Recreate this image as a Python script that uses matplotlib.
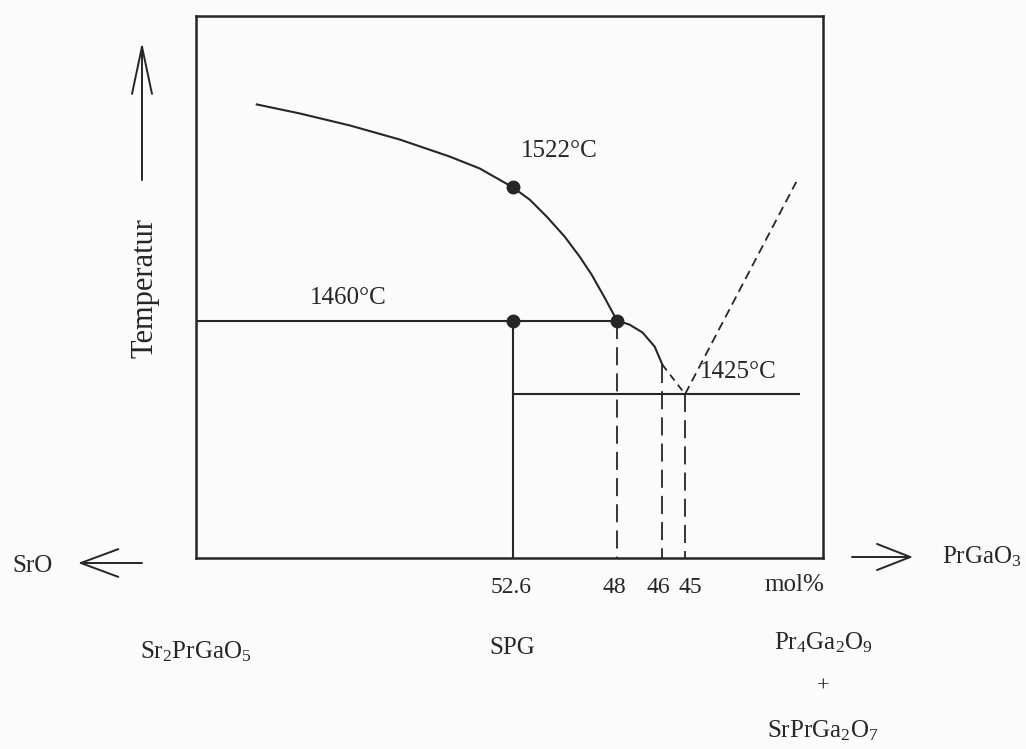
import matplotlib
matplotlib.use("Agg")
import matplotlib.pyplot as plt
from matplotlib.transforms import ScaledTranslation

plt.rcParams["font.family"] = ["Liberation Serif", "DejaVu Serif"]
plt.rcParams["mathtext.fontset"] = "custom"
plt.rcParams["mathtext.rm"] = "Liberation Serif"
plt.rcParams["mathtext.it"] = "Liberation Serif:italic"

INK = "#262626"
W, H = 1026, 749

# composition axis (mol%, decreasing to the right) and temperature (°C)
X_LIM = (66.56, 38.92)
T_LIM = (1347, 1605)

# liquidus of SPG (solid part)
liq_x = [63.88, 61.98, 59.78, 57.58, 55.38, 54.05, 52.6,
         51.85, 51.10, 50.31, 49.65, 49.12, 48.55, 48.0,
         47.45, 46.87, 46.34, 46.0]
liq_t = [1562.9, 1558.6, 1552.9, 1546.2, 1538.1, 1532.4, 1523.5,
         1517.6, 1509.5, 1500.0, 1490.5, 1481.9, 1471.0, 1460.0,
         1458.1, 1454.3, 1447.6, 1439.0]
# dashed end of the liquidus down to the eutectic
liq_end_x = [46.0, 45.0]
liq_end_t = [1439, 1425]
# dashed liquidus on the PrGaO3 side
right_x = [45.0, 40.1]
right_t = [1425, 1526]

# invariant temperatures
T_PERI = 1460     # peritectic
T_EUT = 1425      # eutectic
T_MELT = 1523.5   # SPG at its own composition (labelled 1522 °C)
X_SPG = 52.6
X_PERI = 48
X_46 = 46
X_EUT = 45
X_EUT_LINE_END = 40.0

tick_pos = [52.6, 48, 46, 45]
tick_lab = ["52.6", "48", "46", "45"]

dots_x = [X_SPG, X_SPG, X_PERI]
dots_t = [T_MELT, T_PERI, T_PERI]

labels = [("1522°C", 50.53, 1540.5), ("1460°C", 59.87, 1471), ("1425°C", 42.67, 1435.7)]


def fx(px):
    return px / W


def fy(py):
    return 1 - py / H


fig = plt.figure(figsize=(10.26, 7.49), dpi=100)
fig.patch.set_facecolor("#fbfbfb")
ax = fig.add_axes([fx(196), fy(558), fx(823) - fx(196), fy(16) - fy(558)])
ax.set_facecolor("none")
ax.set_xlim(*X_LIM)
ax.set_ylim(*T_LIM)
for s in ax.spines.values():
    s.set_linewidth(1.8)
    s.set_color(INK)

lw = 1.5
vdash = (10, 4.5)
ax.plot(liq_x, liq_t, color=INK, lw=lw, solid_joinstyle="round")
ax.plot(liq_end_x, liq_end_t, color=INK, lw=1.3, dashes=(4, 3))
ax.plot(right_x, right_t, color=INK, lw=1.3, dashes=(5, 3))

ax.plot([X_LIM[0], X_PERI], [T_PERI, T_PERI], color=INK, lw=lw)
ax.plot([X_SPG, X_EUT_LINE_END], [T_EUT, T_EUT], color=INK, lw=lw)
ax.plot([X_SPG, X_SPG], [T_PERI, T_LIM[0]], color=INK, lw=lw)
ax.plot([X_PERI, X_PERI], [T_PERI, T_LIM[0]], color=INK, lw=1.3, dashes=vdash)
ax.plot([X_46, X_46], [liq_t[-1], T_LIM[0]], color=INK, lw=1.3, dashes=vdash)
ax.plot([X_EUT, X_EUT], [T_EUT, T_LIM[0]], color=INK, lw=1.3, dashes=vdash)
ax.plot(dots_x, dots_t, "o", color=INK, ms=9, zorder=5)

for txt, x, t in labels:
    ax.text(x, t, txt, fontsize=18, color=INK, ha="center", va="center")

ax.set_xticks(tick_pos, tick_lab)
ax.set_yticks([])
ax.tick_params(axis="x", length=0, pad=14, labelsize=17, labelcolor=INK)
# nudge the crowded labels apart like in the original
for lab, dx in zip(ax.get_xticklabels(), [-2, -3, -4, 5]):
    lab.set_transform(lab.get_transform() + ScaledTranslation(dx / 100, 0, fig.dpi_scale_trans))
ax.text(40.2, -0.05, "mol%", transform=ax.get_xaxis_transform(), fontsize=18,
        color=INK, ha="center", va="center")

# compounds under the axis
ax.text(0.0, -0.172, "Sr$_2$PrGaO$_5$", transform=ax.transAxes, fontsize=18,
        color=INK, ha="center", va="center")
ax.text(X_SPG, -0.166, "SPG", transform=ax.get_xaxis_transform(), fontsize=18,
        color=INK, ha="center", va="center")
ax.text(1.0, -0.157, "Pr$_4$Ga$_2$O$_9$", transform=ax.transAxes, fontsize=18,
        color=INK, ha="center", va="center")
ax.text(1.0, -0.238, "+", transform=ax.transAxes, fontsize=16,
        color=INK, ha="center", va="center")
ax.text(1.0, -0.318, "SrPrGa$_2$O$_7$", transform=ax.transAxes, fontsize=18,
        color=INK, ha="center", va="center")

# end members and the axis arrows
fig.text(fx(33), fy(566), "SrO", fontsize=18, color=INK, ha="center", va="center")
fig.text(fx(982), fy(557), "PrGaO$_3$", fontsize=18, color=INK, ha="center", va="center")
fig.text(fx(145), fy(288), "Temperatur", fontsize=22, color=INK, ha="center",
         va="center", rotation=90)

arr = dict(color=INK, lw=1.4, shrinkA=0, shrinkB=0)
fig.add_artist(matplotlib.patches.FancyArrowPatch(
    (fx(142), fy(180)), (fx(142), fy(42)), transform=fig.transFigure,
    arrowstyle="->,head_length=1.7,head_width=0.36", mutation_scale=20, **arr))
fig.add_artist(matplotlib.patches.FancyArrowPatch(
    (fx(142), fy(563)), (fx(78), fy(563)), transform=fig.transFigure,
    arrowstyle="->,head_length=1.35,head_width=0.5", mutation_scale=20, **arr))
fig.add_artist(matplotlib.patches.FancyArrowPatch(
    (fx(852), fy(557)), (fx(913), fy(557)), transform=fig.transFigure,
    arrowstyle="->,head_length=1.2,head_width=0.47", mutation_scale=20, **arr))

fig.savefig("out.png", dpi=100, facecolor=fig.get_facecolor())
